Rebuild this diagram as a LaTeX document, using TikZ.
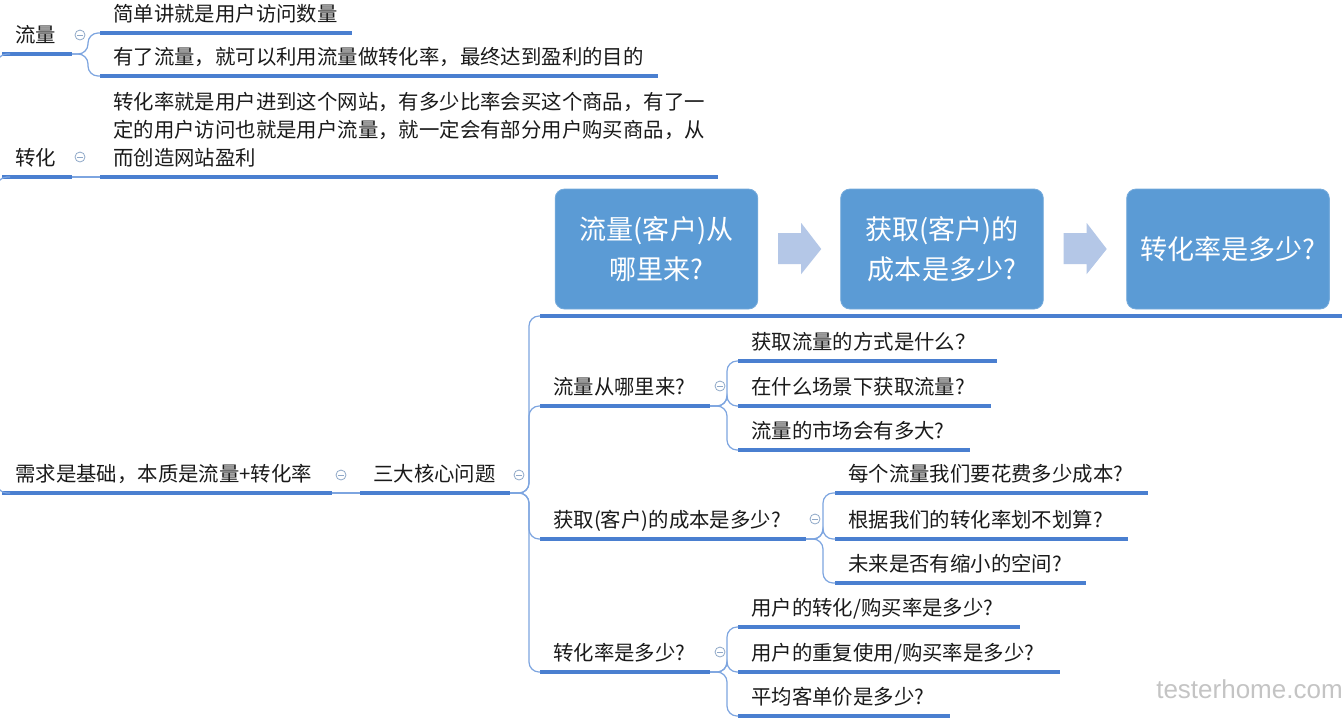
\documentclass[tikz,border=0pt]{standalone}
\usepackage{fontspec}
\setmainfont{Noto Sans CJK SC}
\newfontfamily\wmfont{Liberation Sans}
\usetikzlibrary{calc}
\definecolor{ulinec}{HTML}{4A7FD0}
\definecolor{brkc}{HTML}{7DA5E0}
\definecolor{boxc}{HTML}{5B9BD5}
\definecolor{boxedge}{HTML}{76ABDC}
\definecolor{arrc}{HTML}{B4C7E7}
\definecolor{txtc}{HTML}{1A1A1A}
\definecolor{iconc}{HTML}{8FA8C8}
\definecolor{wmc}{HTML}{C4C4C4}
\tikzset{
  ul/.style={draw=ulinec, line width=2.3pt},
  bline/.style={draw=brkc, line width=0.9pt, rounded corners=7.5pt},
  topictext/.style={font=\fontsize{15.3}{21}\selectfont, text=txtc, inner sep=0pt, anchor=base west},
  boxn/.style={fill=boxc, draw=boxedge, line width=0.6pt, rounded corners=7pt,
    minimum width=152pt, minimum height=90pt, text=white,
    font=\fontsize{20.3}{30}\selectfont, align=center, inner sep=0pt},
  icon/.style={circle, draw=iconc, line width=0.6pt, minimum size=7.5pt, inner sep=0pt,
    path picture={\draw[iconc, line width=0.6pt]
      ([xshift=-2pt]path picture bounding box.center) -- ([xshift=2pt]path picture bounding box.center);}},
}
\newcommand\mtopic[5]{%
  \coordinate (#1-l) at (#2,#4);
  \coordinate (#1-r) at (#3,#4);
  \node[topictext] (#1) at (#2+13,#4-12) {#5};
  \draw[ul] (#1-l) -- (#1-r);
}
\begin{document}
\begin{tikzpicture}[x=0.75pt,y=-0.75pt]
\useasboundingbox (0,0) rectangle (1342,719);
\fill[white] (0,0) rectangle (1342,719);
\clip (0,0) rectangle (1342,719);

% ---- root children
\mtopic{t1}{2}{72}{54}{流量}
\mtopic{t1a}{100}{352}{33}{简单讲就是用户访问数量}
\mtopic{t1b}{100}{658}{76}{有了流量，就可以利用流量做转化率，最终达到盈利的目的}
\mtopic{t2}{2}{72}{177}{转化}
\coordinate (t2a-l) at (100,177);
\coordinate (t2a-r) at (718,177);
\node[topictext, align=left] (t2a) at (113,165)
  {转化率就是用户进到这个网站，有多少比率会买这个商品，有了一\\定的用户访问也就是用户流量，就一定会有部分用户购买商品，从\\而创造网站盈利};
\draw[ul] (t2a-l) -- (t2a-r);
\mtopic{t3}{2}{332}{493}{需求是基础，本质是流量+转化率}
\mtopic{t4}{360}{510}{493}{三大核心问题}

% ---- image topic (boxes)
\coordinate (img-l) at (540,316);
\coordinate (img-r) at (1342,316);
\draw[ul] (img-l) -- (img-r);
\node[boxn] (b1) at (656.5,249) {流量(客户)从\\哪里来?};
\node[boxn] (b2) at (942,249) {获取(客户)的\\成本是多少?};
\node[boxn] (b3) at (1228,249) {转化率是多少?};
\fill[arrc] (b1.east) ++(20,-16) -- ++(23,0) -- ++(0,-10) -- ++(20,26) -- ++(-20,25) -- ++(0,-10) -- ++(-23,0) -- cycle;
\fill[arrc] (b2.east) ++(20,-16) -- ++(23,0) -- ++(0,-10) -- ++(20,26) -- ++(-20,25) -- ++(0,-10) -- ++(-23,0) -- cycle;

% ---- questions
\mtopic{q1}{540}{710}{406}{流量从哪里来?}
\mtopic{q2}{540}{806}{539}{获取(客户)的成本是多少?}
\mtopic{q3}{540}{710}{672}{转化率是多少?}
\mtopic{q1a}{738}{997}{361}{获取流量的方式是什么？}
\mtopic{q1b}{738}{991}{406}{在什么场景下获取流量?}
\mtopic{q1c}{738}{970}{450}{流量的市场会有多大?}
\mtopic{q2a}{835}{1148}{493}{每个流量我们要花费多少成本?}
\mtopic{q2b}{835}{1128}{539}{根据我们的转化率划不划算?}
\mtopic{q2c}{835}{1086}{583}{未来是否有缩小的空间?}
\mtopic{q3a}{738}{1020}{627}{用户的转化/购买率是多少?}
\mtopic{q3b}{738}{1060}{672}{用户的重复使用/购买率是多少?}
\mtopic{q3c}{738}{950}{716}{平均客单价是多少?}

% ---- connectors
\coordinate (rootj) at (-3,300);
\draw[bline] (rootj) |- ([xshift=6pt]t1-l);
\draw[bline] (rootj) |- ([xshift=6pt]t2-l);
\draw[bline] (rootj) |- ([xshift=6pt]t3-l);

\coordinate (t1-s) at (88,54);
\draw[bline] (t1-r) -- (t1-s) |- (t1a-l);
\draw[bline] (t1-r) -- (t1-s) |- (t1b-l);
\draw[bline] (t2-r) -- (t2a-l);
\draw[bline] (t3-r) -- (t4-l);

\coordinate (t4-s) at (529,493);
\foreach \c in {img,q1,q2,q3} \draw[bline] (t4-r) -- (t4-s) |- (\c-l);

\coordinate (q1-s) at (727,406);
\foreach \c in {q1a,q1b,q1c} \draw[bline] (q1-r) -- (q1-s) |- (\c-l);
\coordinate (q2-s) at (823,539);
\foreach \c in {q2a,q2b,q2c} \draw[bline] (q2-r) -- (q2-s) |- (\c-l);
\coordinate (q3-s) at (727,672);
\foreach \c in {q3a,q3b,q3c} \draw[bline] (q3-r) -- (q3-s) |- (\c-l);

% ---- collapse icons
\node[icon] (i1) at (80,35) {};
\node[icon] (i2) at (80,157) {};
\node[icon] (i3) at (341,475) {};
\node[icon] (i4) at (519,475) {};
\node[icon] (i5) at (720,386) {};
\node[icon] (i6) at (815,519) {};
\node[icon] (i7) at (720,652) {};

% ---- watermark
\node[anchor=base west, inner sep=0pt, text=wmc, font=\wmfont\fontsize{19.5}{20}\selectfont] (wm) at (1156,698) {testerhome.com};
\end{tikzpicture}
\end{document}
